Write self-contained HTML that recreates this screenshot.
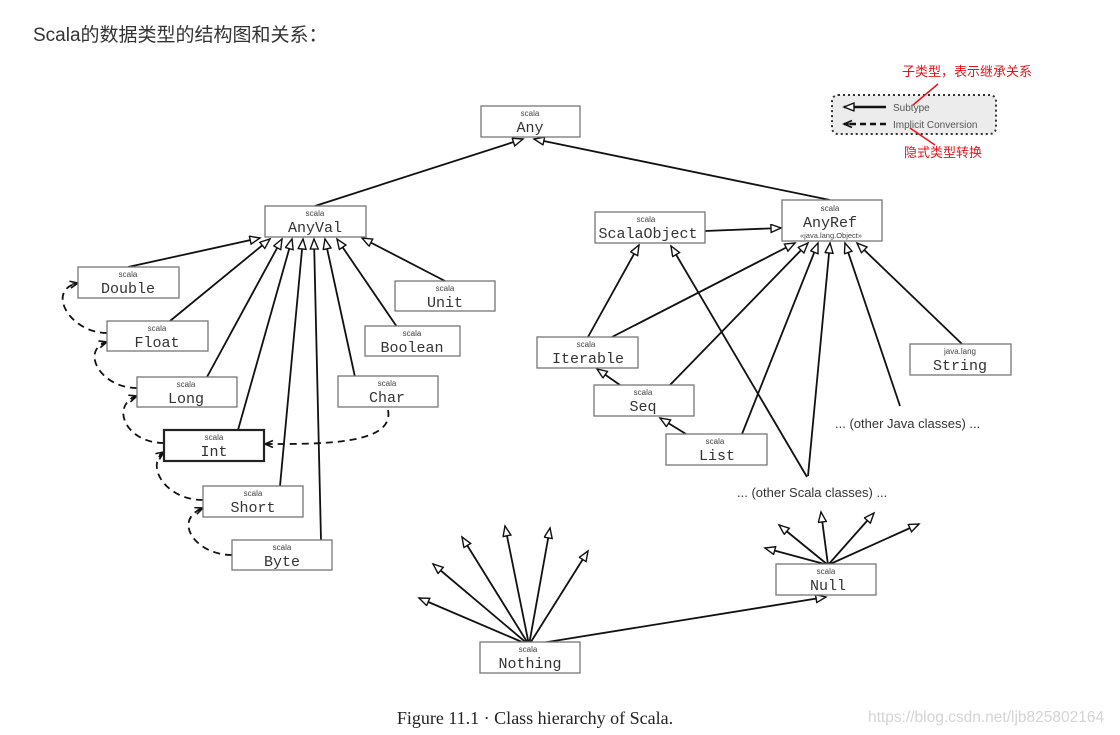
<!DOCTYPE html>
<html><head><meta charset="utf-8"><style>
html,body{margin:0;padding:0;background:#fff;}
body{width:1120px;height:735px;overflow:hidden;position:relative;}
.t{position:absolute;left:33px;top:20px;font:19px "Liberation Sans","Noto Sans CJK SC",sans-serif;color:#333;}
svg{position:absolute;left:0;top:0;}
.b{fill:#fff;stroke:#777;stroke-width:1.3;}
.s{font:8px "Liberation Sans",sans-serif;fill:#444;text-anchor:middle;}
.n{font:15px "Liberation Mono","DejaVu Sans Mono",monospace;fill:#333;text-anchor:middle;}
.e{stroke:#111;stroke-width:1.8;fill:none;marker-end:url(#tri);}
.d{stroke:#111;stroke-width:1.8;fill:none;stroke-dasharray:7 5;marker-end:url(#bar);}
</style></head><body>
<div class="t">Scala的数据类型的结构图和关系：</div>
<svg width="1120" height="735" viewBox="0 0 1120 735">
<defs>
<marker id="tri" markerWidth="13" markerHeight="11" refX="11" refY="4.5" orient="auto" markerUnits="userSpaceOnUse">
<path d="M1,0.5 L11,4.5 L1,8.5 z" fill="#fff" stroke="#111" stroke-width="1.4"/></marker>
<marker id="bar" markerWidth="12" markerHeight="10" refX="10" refY="4" orient="auto" markerUnits="userSpaceOnUse">
<path d="M2,0.5 L10,4 L2,7.5 M10,4 L4,4" fill="none" stroke="#111" stroke-width="1.6"/></marker>
</defs>
<!-- legend -->
<rect x="832" y="95" width="164" height="39" rx="6" fill="#ececec" stroke="#333" stroke-width="2" stroke-dasharray="2 3"/>
<line x1="886" y1="107" x2="844" y2="107" class="e" style="stroke-width:2.4"/>
<line x1="886" y1="124" x2="844" y2="124" class="d" style="stroke-width:2.4;stroke-dasharray:6 4"/>
<text x="893" y="111" style="font:10px 'Liberation Sans',sans-serif;fill:#555">Subtype</text>
<text x="893" y="128" style="font:10px 'Liberation Sans',sans-serif;fill:#555">Implicit Conversion</text>
<text x="902" y="76" style="font:13px 'Liberation Sans','Noto Sans CJK SC',sans-serif;fill:#e8141c">子类型，表示继承关系</text>
<text x="904" y="157" style="font:13px 'Liberation Sans','Noto Sans CJK SC',sans-serif;fill:#e8141c">隐式类型转换</text>
<line x1="938" y1="84" x2="913" y2="105" stroke="#e8141c" stroke-width="1.5"/>
<line x1="910" y1="128" x2="935" y2="145" stroke="#e8141c" stroke-width="1.5"/>

<!-- edges -->
<line x1="315" y1="206" x2="523" y2="139" class="e"/>
<line x1="830" y1="200" x2="534" y2="139" class="e"/>
<line x1="128" y1="267" x2="260" y2="238" class="e"/>
<line x1="170" y1="321" x2="270" y2="239" class="e"/>
<line x1="207" y1="377" x2="282" y2="239" class="e"/>
<line x1="238" y1="430" x2="292" y2="239" class="e"/>
<line x1="280" y1="486" x2="303" y2="239" class="e"/>
<line x1="321" y1="540" x2="314" y2="239" class="e"/>
<line x1="355" y1="377" x2="325" y2="239" class="e"/>
<line x1="397" y1="327" x2="337" y2="239" class="e"/>
<line x1="445" y1="281" x2="362" y2="238" class="e"/>
<path class="d" d="M232,555 C195,555 172,520 203,508"/>
<path class="d" d="M203,500 C165,500 145,465 164,452"/>
<path class="d" d="M164,443 C125,443 110,405 137,396"/>
<path class="d" d="M137,388 C100,388 80,350 107,342"/>
<path class="d" d="M107,333 C70,333 45,290 78,283"/>
<path class="d" d="M388,410 C395,445 320,444 265,444"/>
<line x1="705" y1="231" x2="781" y2="228" class="e"/>
<line x1="588" y1="337" x2="639" y2="245" class="e"/>
<line x1="807" y1="477" x2="671" y2="246" class="e"/>
<line x1="612" y1="337" x2="795" y2="243" class="e"/>
<line x1="670" y1="385" x2="808" y2="243" class="e"/>
<line x1="742" y1="434" x2="818" y2="243" class="e"/>
<line x1="808" y1="476" x2="830" y2="243" class="e"/>
<line x1="900" y1="406" x2="845" y2="243" class="e"/>
<line x1="962" y1="344" x2="857" y2="243" class="e"/>
<line x1="620" y1="385" x2="597" y2="369" class="e"/>
<line x1="686" y1="434" x2="660" y2="418" class="e"/>
<line x1="529" y1="645" x2="419" y2="598" class="e"/>
<line x1="529" y1="645" x2="433" y2="564" class="e"/>
<line x1="529" y1="645" x2="462" y2="537" class="e"/>
<line x1="529" y1="645" x2="505" y2="526" class="e"/>
<line x1="529" y1="645" x2="550" y2="528" class="e"/>
<line x1="529" y1="645" x2="588" y2="551" class="e"/>
<line x1="529" y1="645" x2="826" y2="597" class="e"/>
<line x1="828" y1="565" x2="765" y2="548" class="e"/>
<line x1="828" y1="565" x2="779" y2="525" class="e"/>
<line x1="828" y1="565" x2="821" y2="512" class="e"/>
<line x1="828" y1="565" x2="874" y2="513" class="e"/>
<line x1="828" y1="565" x2="919" y2="524" class="e"/>

<!-- boxes -->
<g>
<rect class="b" x="481" y="106" width="99" height="31"/><text class="s" x="530" y="116">scala</text><text class="n" x="530" y="132">Any</text>
<rect class="b" x="265" y="206" width="101" height="31"/><text class="s" x="315" y="216">scala</text><text class="n" x="315" y="232">AnyVal</text>
<rect class="b" x="78" y="267" width="101" height="31"/><text class="s" x="128" y="277">scala</text><text class="n" x="128" y="293">Double</text>
<rect class="b" x="395" y="281" width="100" height="30"/><text class="s" x="445" y="291">scala</text><text class="n" x="445" y="307">Unit</text>
<rect class="b" x="107" y="321" width="101" height="30"/><text class="s" x="157" y="331">scala</text><text class="n" x="157" y="347">Float</text>
<rect class="b" x="365" y="326" width="95" height="30"/><text class="s" x="412" y="336">scala</text><text class="n" x="412" y="352">Boolean</text>
<rect class="b" x="137" y="377" width="100" height="30"/><text class="s" x="186" y="387">scala</text><text class="n" x="186" y="403">Long</text>
<rect class="b" x="338" y="376" width="100" height="31"/><text class="s" x="387" y="386">scala</text><text class="n" x="387" y="402">Char</text>
<rect x="164" y="430" width="100" height="31" fill="#fff" stroke="#222" stroke-width="2.2"/><text class="s" x="214" y="440">scala</text><text class="n" x="214" y="456">Int</text>
<rect class="b" x="203" y="486" width="100" height="31"/><text class="s" x="253" y="496">scala</text><text class="n" x="253" y="512">Short</text>
<rect class="b" x="232" y="540" width="100" height="30"/><text class="s" x="282" y="550">scala</text><text class="n" x="282" y="566">Byte</text>
<rect class="b" x="595" y="212" width="110" height="31"/><text class="s" x="646" y="222">scala</text><text class="n" x="648" y="238">ScalaObject</text>
<rect class="b" x="782" y="200" width="100" height="41"/><text class="s" x="830" y="211">scala</text><text class="n" x="830" y="227">AnyRef</text><text class="s" x="831" y="238" style="font-size:7.5px">«java.lang.Object»</text>
<rect class="b" x="537" y="337" width="101" height="31"/><text class="s" x="586" y="347">scala</text><text class="n" x="588" y="363">Iterable</text>
<rect class="b" x="594" y="385" width="100" height="31"/><text class="s" x="643" y="395">scala</text><text class="n" x="643" y="411">Seq</text>
<rect class="b" x="666" y="434" width="101" height="31"/><text class="s" x="715" y="444">scala</text><text class="n" x="717" y="460">List</text>
<rect class="b" x="910" y="344" width="101" height="31"/><text class="s" x="960" y="354">java.lang</text><text class="n" x="960" y="370">String</text>
<rect class="b" x="776" y="564" width="100" height="31"/><text class="s" x="826" y="574">scala</text><text class="n" x="828" y="590">Null</text>
<rect class="b" x="480" y="642" width="100" height="31"/><text class="s" x="528" y="652">scala</text><text class="n" x="530" y="668">Nothing</text>
</g>
<text x="835" y="428" style="font:13px 'Liberation Sans',sans-serif;fill:#333">... (other Java classes) ...</text>
<text x="737" y="497" style="font:13px 'Liberation Sans',sans-serif;fill:#333">... (other Scala classes) ...</text>
<text x="535" y="724" text-anchor="middle" style="font:18px 'Liberation Serif',serif;fill:#222">Figure 11.1 · Class hierarchy of Scala.</text>
<text x="868" y="722" style="font:15.5px 'Liberation Sans',sans-serif;fill:#d4d4d4">https://blog.csdn.net/ljb825802164</text>
</svg>
</body></html>
